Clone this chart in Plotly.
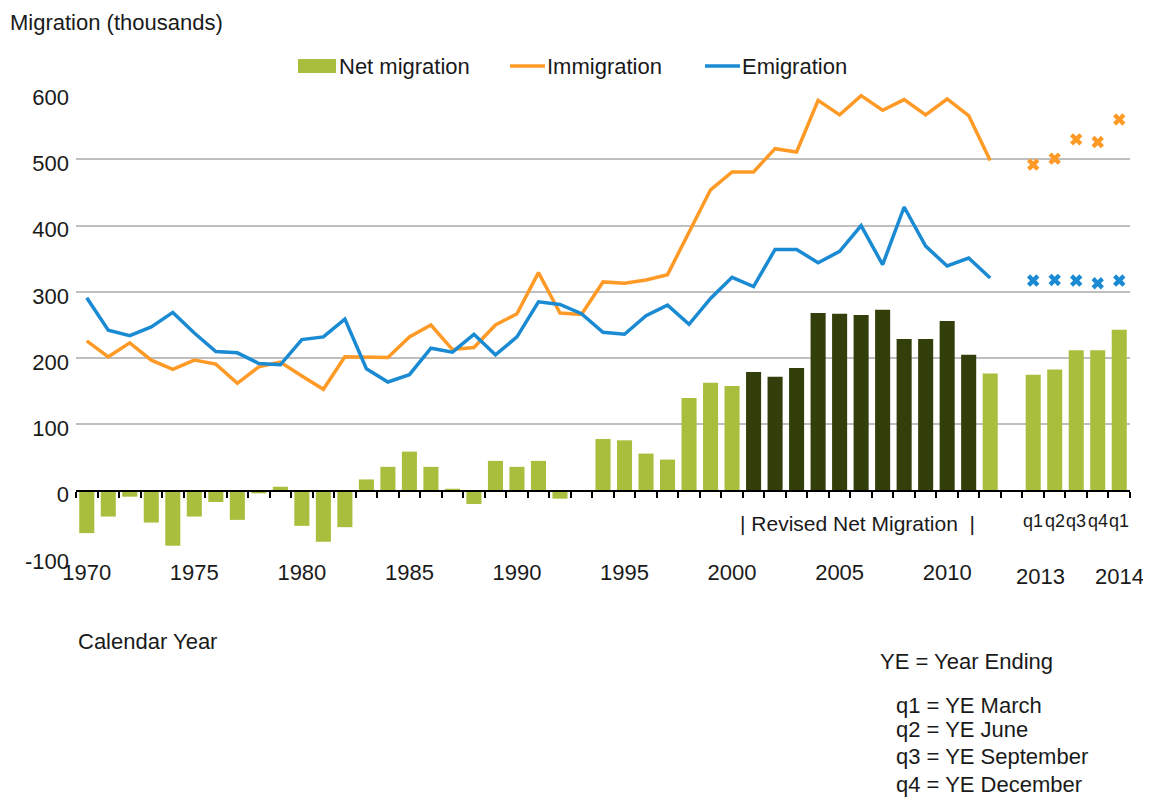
import plotly.graph_objects as go

# ---------------- data ----------------
years = list(range(1970, 2013))
quarters = ["2013 q1", "2013 q2", "2013 q3", "2013 q4", "2014 q1"]
quarter_labels = ["q1", "q2", "q3", "q4", "q1"]

net_annual = [-64, -39, -9, -48, -83, -39, -17, -44, -4, 6,
              -53, -77, -55, 17, 36, 59, 36, 3, -20, 45,
              36, 45, -12, -1, 78, 76, 56, 47, 140, 163,
              158, 179, 172, 185, 268, 267, 265, 273, 229, 229,
              256, 205, 177]
net_quarterly = [175, 183, 212, 212, 243]

imm_annual = [226, 202, 223, 197, 183, 197, 191, 162, 187, 194,
              173, 153, 202, 202, 201, 232, 250, 213, 216, 250,
              267, 329, 268, 266, 315, 313, 318, 326, 391, 454,
              481, 481, 516, 511, 589, 567, 596, 574, 590, 567,
              591, 566, 498]
imm_quarterly = [492, 501, 530, 526, 560]

emi_annual = [291, 242, 234, 247, 269, 238, 210, 208, 192, 190,
              228, 232, 259, 184, 164, 175, 215, 209, 236, 205,
              232, 285, 281, 267, 239, 236, 264, 280, 251, 290,
              322, 308, 364, 364, 344, 361, 400, 341, 428, 369,
              339, 351, 321]
emi_quarterly = [317, 318, 317, 313, 317]

revised_years = list(range(2001, 2012))
label_years = [1970, 1975, 1980, 1985, 1990, 1995, 2000, 2005, 2010]
quarter_year_labels = ["2013", "2014"]
y_ticks = [-100, 0, 100, 200, 300, 400, 500, 600]

# ---------------- styling ----------------
GREEN = "#A9BE3C"
DARK = "#323F0A"
ORANGE = "#FF9A27"
BLUE = "#1A8BD3"
GRID = "#BFBFBF"
FONT = "Arial, Liberation Sans, sans-serif"
TXT = "#1a1a1a"
FS = 22

# positions on a continuous category scale (one gap slot before quarters)
x_annual = [y - years[0] for y in years]
x_q = [len(years) + 1 + i for i in range(len(quarters))]

x_all = x_annual + x_q
net_all = net_annual + net_quarterly
bar_colors = [DARK if y in revised_years else GREEN for y in years] + [GREEN] * len(quarters)

fig = go.Figure()

fig.add_trace(go.Bar(x=x_all, y=net_all, marker=dict(color=bar_colors, line=dict(width=0)),
                     width=0.7, name="Net migration", showlegend=False))
fig.add_trace(go.Scatter(x=x_annual, y=imm_annual, mode="lines", name="Immigration",
                         line=dict(color=ORANGE, width=3.5), showlegend=False))
fig.add_trace(go.Scatter(x=x_annual, y=emi_annual, mode="lines", name="Emigration",
                         line=dict(color=BLUE, width=3.5), showlegend=False))
fig.add_trace(go.Scatter(x=x_q, y=imm_quarterly, mode="markers", showlegend=False,
                         marker=dict(symbol="x", size=11, color=ORANGE, line=dict(width=0))))
fig.add_trace(go.Scatter(x=x_q, y=emi_quarterly, mode="markers", showlegend=False,
                         marker=dict(symbol="x", size=11, color=BLUE, line=dict(width=0))))
# invisible trace to create the zero-line axis subplot
fig.add_trace(go.Scatter(x=[x_all[0]], y=[0], mode="markers", xaxis="x2", showlegend=False,
                         marker=dict(opacity=0), hoverinfo="skip"))

xmin, xmax = x_all[0] - 0.5, x_all[-1] + 0.5
ymin, ymax = y_ticks[0], y_ticks[-1]

tickvals = [y - years[0] for y in label_years]
ticktext = [str(y) for y in label_years]

# page body has an 8px margin: plot area at page x 76..1130, y 93..557
fig.update_layout(
    width=1143, height=789,
    margin=dict(l=68, r=21, t=85, b=240),
    paper_bgcolor="white", plot_bgcolor="white",
    font=dict(family=FONT, size=FS, color=TXT),
    showlegend=False,
    xaxis=dict(range=[xmin, xmax], tickvals=tickvals, ticktext=ticktext, showgrid=False,
               zeroline=False, showline=False, ticks="", tickfont=dict(size=FS)),
    xaxis2=dict(range=[xmin, xmax], overlaying="x", anchor="free", position=(0 - ymin) / (ymax - ymin),
                showline=True, linecolor="black", linewidth=2, ticks="outside", ticklen=6,
                tickwidth=2, tickcolor="black",
                tickvals=[v - 0.5 for v in range(x_all[0], x_all[-1] + 2)],
                showticklabels=False, showgrid=False, zeroline=False),
    yaxis=dict(range=[ymin, ymax], tickvals=y_ticks, ticktext=[str(v) for v in y_ticks],
               showgrid=True, gridcolor=GRID, gridwidth=2,
               zeroline=False, showline=False, ticks="", tickfont=dict(size=FS),
               ticklabelstandoff=6, ticklabelshift=4),
    bargap=0.3,
)

def px_x(p):
    return (p - 76) / 1054.0

def px_y(p):
    return (557 - p) / 464.0

ann = []
ann.append(dict(text="Migration (thousands)", xref="paper", yref="paper", x=px_x(8), y=px_y(22),
                xanchor="left", yanchor="middle", showarrow=False, font=dict(size=FS)))
ann.append(dict(text="Calendar Year", xref="paper", yref="paper", x=px_x(76), y=px_y(641),
                xanchor="left", yanchor="middle", showarrow=False, font=dict(size=FS)))
ann.append(dict(text="YE = Year Ending", xref="paper", yref="paper", x=px_x(878), y=px_y(661),
                xanchor="left", yanchor="middle", showarrow=False, font=dict(size=FS)))
for txt, yp in [("q1 = YE March", 705), ("q2 = YE June", 729),
                ("q3 = YE September", 757), ("q4 = YE December", 784)]:
    ann.append(dict(text=txt, xref="paper", yref="paper", x=px_x(894), y=px_y(yp),
                    xanchor="left", yanchor="middle", showarrow=False, font=dict(size=FS)))
rev_center = ((revised_years[0] - years[0]) + (revised_years[-1] - years[0])) / 2
ann.append(dict(text="| Revised Net Migration  |", x=rev_center - 0.15, y=-50, xref="x", yref="y",
                showarrow=False, font=dict(size=21)))
for xq, ql in zip(x_q, quarter_labels):
    ann.append(dict(text=ql, x=xq, y=-46, xref="x", yref="y", showarrow=False,
                    font=dict(size=18)))
for xv, lab in zip([x_q[0] + 0.35, x_q[-1]], quarter_year_labels):
    ann.append(dict(text=lab, x=xv, y=px_y(576), xref="x", yref="paper", showarrow=False,
                    yanchor="middle", font=dict(size=FS)))

# custom legend (swatches + labels)
shapes = [
    dict(type="rect", xref="paper", yref="paper", x0=px_x(298), x1=px_x(336),
         y0=px_y(73), y1=px_y(59), fillcolor=GREEN, line=dict(width=0)),
    dict(type="line", xref="paper", yref="paper", x0=px_x(510), x1=px_x(545),
         y0=px_y(66), y1=px_y(66), line=dict(color=ORANGE, width=3.5)),
    dict(type="line", xref="paper", yref="paper", x0=px_x(705), x1=px_x(740),
         y0=px_y(66), y1=px_y(66), line=dict(color=BLUE, width=3.5)),
]
for txt, xl in [("Net migration", 337), ("Immigration", 545), ("Emigration", 740)]:
    ann.append(dict(text=txt, xref="paper", yref="paper", x=px_x(xl), y=px_y(66),
                    xanchor="left", yanchor="middle", showarrow=False, font=dict(size=FS)))

fig.update_layout(annotations=ann, shapes=shapes)

fig.write_html("out.html")
